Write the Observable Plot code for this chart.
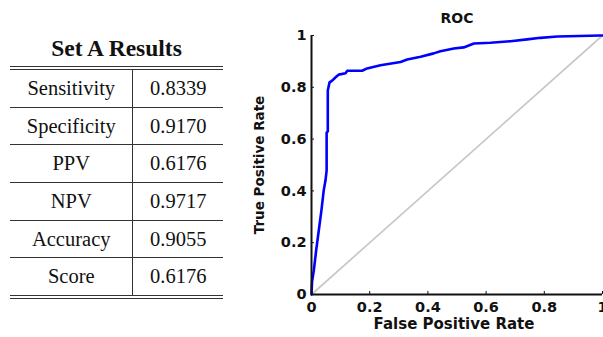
<!DOCTYPE html>
<html>
<head>
<meta charset="utf-8">
<script src="https://cdn.jsdelivr.net/npm/d3@7"></script>
<script src="https://cdn.jsdelivr.net/npm/@observablehq/plot@0.6"></script>
<style>
  html, body { margin: 0; padding: 0; background: #fff; }
  #wrap { position: relative; width: 603px; height: 337px; overflow: hidden; }
  #tbl-title { position: absolute; left: 10px; width: 213px; top: 35px; text-align: center;
    font-family: "Liberation Serif", "Times New Roman", serif; font-weight: bold; font-size: 23.5px; color: #111; }
  table { position: absolute; left: 10px; top: 66px; width: 213px; border-collapse: collapse;
    font-family: "Liberation Serif", "Times New Roman", serif; font-size: 20.5px; color: #111; }
  table { border-top: 4px double #333; border-bottom: 4px double #333; }
  td { height: 36.7px; padding: 0; text-align: center; border-top: 1px solid #333; }
  tr:first-child td { border-top: none; }
  td.c1 { width: 123px; border-right: 1.4px solid #333; }
  td.c2 { width: 90px; }
  #plot { position: absolute; left: 240px; top: 0; }
</style>
</head>
<body>
<div id="wrap">
  <div id="tbl-title"></div>
  <table id="tbl"></table>
  <div id="plot"></div>
</div>
<script>
// ---- Table data ----
const tableTitle = "Set A Results";
const metricNames = ["Sensitivity", "Specificity", "PPV", "NPV", "Accuracy", "Score"];
const metricValues = ["0.8339", "0.9170", "0.6176", "0.9717", "0.9055", "0.6176"];

// ---- ROC data ----
const fpr = [0, 0.002, 0.008, 0.016, 0.025, 0.034, 0.042, 0.048, 0.052, 0.052, 0.056, 0.056, 0.062, 0.071, 0.082, 0.094, 0.117, 0.123, 0.174, 0.191, 0.237, 0.306, 0.329, 0.375, 0.420, 0.443, 0.489, 0.523, 0.558, 0.615, 0.684, 0.741, 0.787, 0.845, 0.993, 1];
const tpr = [0, 0.05, 0.093, 0.170, 0.247, 0.324, 0.402, 0.440, 0.479, 0.625, 0.630, 0.788, 0.819, 0.826, 0.838, 0.849, 0.854, 0.864, 0.864, 0.873, 0.885, 0.898, 0.907, 0.918, 0.931, 0.939, 0.950, 0.954, 0.969, 0.972, 0.978, 0.985, 0.991, 0.996, 1.0, 1];
const chanceX = [0, 1];
const chanceY = [0, 1];
const xTicks = [0, 0.2, 0.4, 0.6, 0.8, 1];
const yTicks = [0, 0.2, 0.4, 0.6, 0.8, 1];
const plotTitle = "ROC";
const xLabel = "False Positive Rate";
const yLabel = "True Positive Rate";

// ---- Build table ----
document.getElementById("tbl-title").textContent = tableTitle;
const tbl = document.getElementById("tbl");
metricNames.forEach((n, i) => {
  const tr = document.createElement("tr");
  const a = document.createElement("td"); a.className = "c1"; a.textContent = n;
  const b = document.createElement("td"); b.className = "c2"; b.textContent = metricValues[i];
  tr.appendChild(a); tr.appendChild(b); tbl.appendChild(tr);
});

// ---- Build plot ----
const roc = fpr.map((x, i) => ({x, y: tpr[i]}));
const chance = chanceX.map((x, i) => ({x, y: chanceY[i]}));
const FONT = "'DejaVu Sans', Verdana, sans-serif";

const chart = Plot.plot({
  width: 363,
  height: 337,
  marginLeft: 71,
  marginRight: 1,
  marginTop: 35,
  marginBottom: 43,
  style: {fontFamily: FONT, fontWeight: "bold", fontSize: "14px", color: "#111", background: "transparent"},
  x: {domain: [0, 1]},
  y: {domain: [0, 1]},
  marks: [
    Plot.line(chance, {x: "x", y: "y", stroke: "#c8c8c8", strokeWidth: 1.7}),
    Plot.line(roc, {x: "x", y: "y", stroke: "#0000ff", strokeWidth: 2.6}),
    Plot.axisX({ticks: xTicks, tickSize: 0, tickPadding: 7, tickFormat: d => String(d), label: null, fill: "#111", fontSize: 14.5, fontWeight: "bold"}),
    Plot.axisY({ticks: yTicks, tickSize: 0, tickPadding: 5, tickFormat: d => String(d), label: null, fill: "#111", fontSize: 14.5, fontWeight: "bold"}),
    Plot.axisX({ticks: xTicks, tickSize: -3, tickFormat: () => "", label: null, stroke: "#111"}),
    Plot.axisY({ticks: yTicks, tickSize: -3, tickFormat: () => "", label: null, stroke: "#111"}),
    Plot.ruleX([0], {stroke: "#111", strokeWidth: 2}),
    Plot.ruleY([0], {stroke: "#111", strokeWidth: 2}),
    Plot.text([plotTitle], {text: d => d, frameAnchor: "top", dy: -22, fontSize: 14, fontWeight: "bold", fill: "#111"}),
    Plot.text([xLabel], {text: d => d, frameAnchor: "bottom", dy: 34, dx: -3, fontSize: 15, fontWeight: "bold", fill: "#111"}),
    Plot.text([yLabel], {text: d => d, frameAnchor: "left", textAnchor: "middle", rotate: -90, dx: -52, fontSize: 13.5, fontWeight: "bold", fill: "#111"})
  ]
});
document.getElementById("plot").appendChild(chart);
</script>
</body>
</html>
